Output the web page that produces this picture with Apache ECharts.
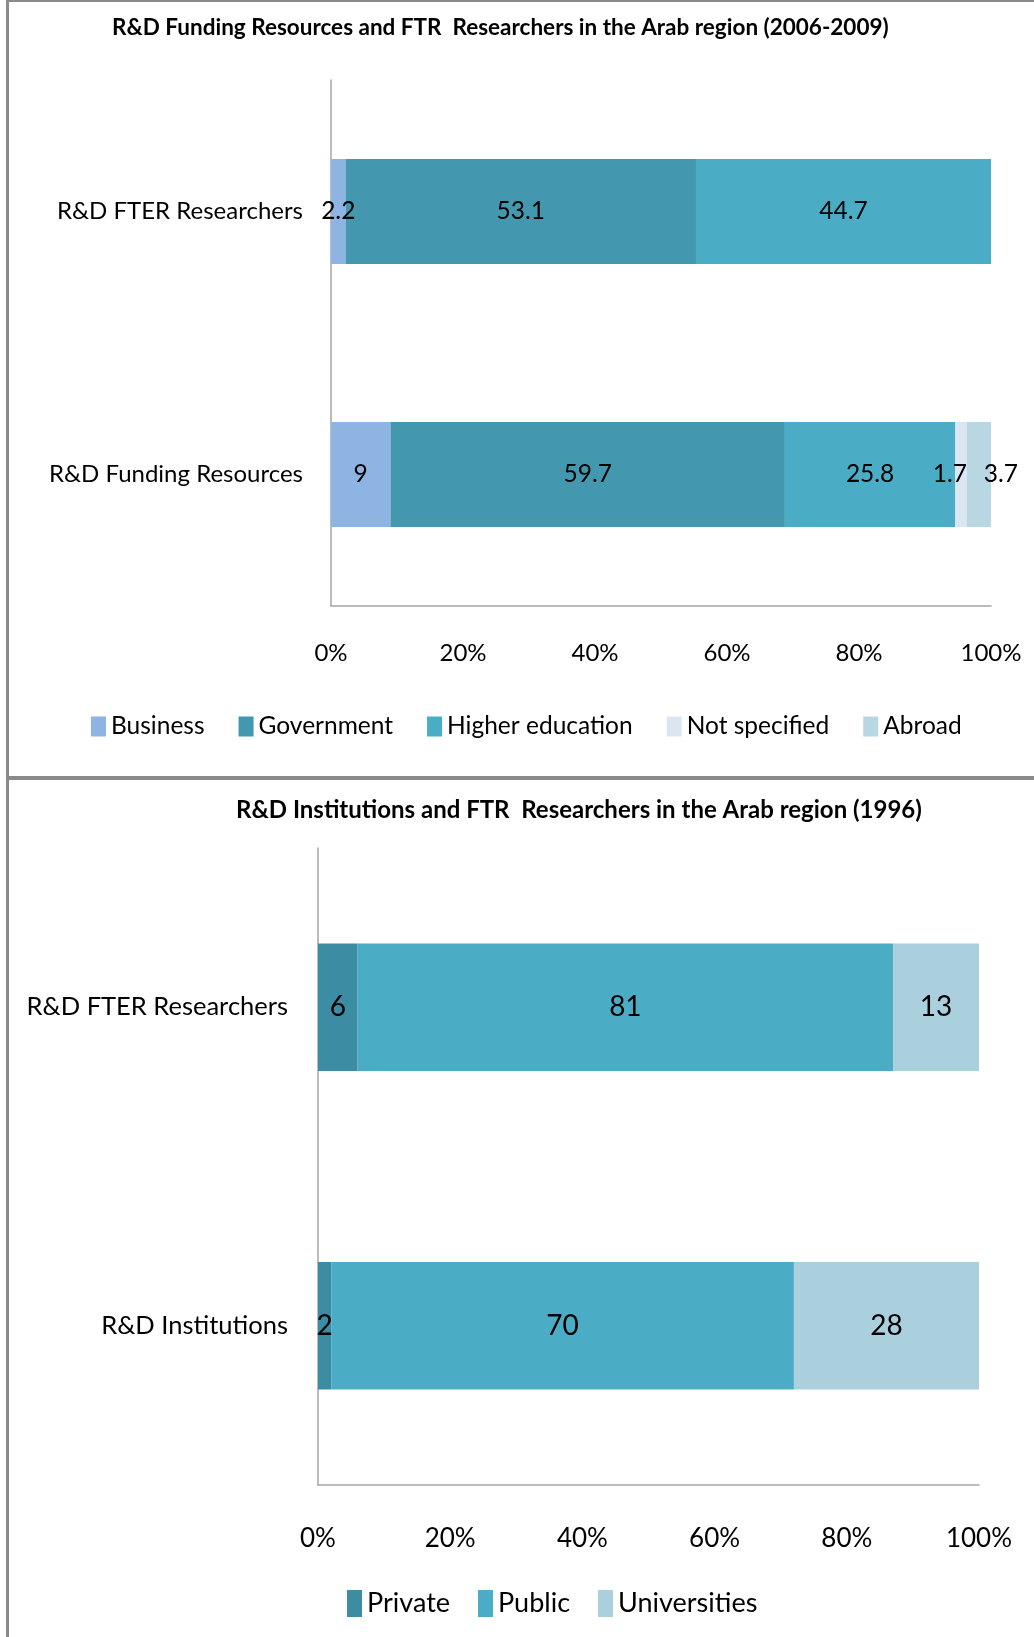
<!DOCTYPE html>
<html>
<head>
<meta charset="utf-8">
<title>R&amp;D Funding and Institutions in the Arab region</title>
<script src="https://cdn.jsdelivr.net/npm/echarts@6/dist/echarts.min.js"></script>
<style>
  html, body { margin: 0; padding: 0; background: #fff; }
  #chart { position: absolute; left: 0; top: 0; width: 1034px; height: 1637px; }
  .rule { position: absolute; background: #8a8a8a; }
</style>
</head>
<body>
<div id="chart"></div>
<!-- frame lines of the original sheet -->
<div class="rule" style="left:6px;top:0;width:3px;height:1637px"></div>
<div class="rule" style="left:6px;top:0;width:1028px;height:2px"></div>
<div class="rule" style="left:6px;top:776px;width:1028px;height:4px"></div>

<script>
// top chart: funding resources and researchers (2006-2009)
const fundingCategories = ['R&D Funding Resources', 'R&D FTER Researchers']
const fundingNames = ['Business', 'Government', 'Higher education', 'Not specified', 'Abroad']
const business = [9, 2.2]
const government = [59.7, 53.1]
const higherEducation = [25.8, 44.7]
const notSpecified = [1.7, null]
const abroad = [3.7, null]

// bottom chart: institutions and researchers (1996)
const instCategories = ['R&D Institutions', 'R&D FTER Researchers']
const instNames = ['Private', 'Public', 'Universities']
const privateShare = [2, 6]
const publicShare = [70, 81]
const universities = [28, 13]

const percentTicks = ['0%', '20%', '40%', '60%', '80%', '100%']

const fundingColors = ['#8EB4E3', '#4397AE', '#4BACC6', '#DCE6F2', '#B9D7E3']
const instColors = ['#3C8DA3', '#4BACC6', '#AACFDD']

const FONT = 'Lato, "Open Sans", sans-serif'

const fundingValues = [business, government, higherEducation, notSpecified, abroad]
const instValues = [privateShare, publicShare, universities]

// 100% stacked: each bar is scaled to its own total
const totals = (groups, n) => {
  const out = []
  for (let i = 0; i < n; i++) {
    out.push(groups.reduce((s, g) => s + (g[i] || 0), 0))
  }
  return out
}
const fundingTotals = totals(fundingValues, fundingCategories.length)
const instTotals = totals(instValues, instCategories.length)

// the two thin segments: Excel pushed their labels sideways
const fundingLabelShift = [0, 0, 0, -11, 22]

const makeSeries = (names, groups, sums, colors, shifts, axisIdx, stack, fontSize) =>
  names.map((name, s) => ({
    name,
    type: 'bar',
    stack,
    xAxisIndex: axisIdx,
    yAxisIndex: axisIdx,
    barCategoryGap: '60%',
    itemStyle: { color: colors[s] },
    label: {
      show: true,
      position: 'inside',
      color: '#000',
      fontFamily: FONT,
      fontSize,
      formatter: p => String(groups[s][p.dataIndex])
    },
    labelLayout: () => ({ dx: shifts ? shifts[s] : 0, hideOverlap: false }),
    data: groups[s].map((v, i) => (v == null ? null : v / sums[i] * 100))
  }))

const axisColor = '#A6A6A6'

const valueAxis = (gridIndex, margin, fontSize) => ({
  type: 'value',
  gridIndex,
  min: 0,
  max: 100,
  interval: 20,
  splitLine: { show: false },
  axisTick: { show: false },
  axisLine: { show: true, lineStyle: { color: axisColor, width: 1.5 } },
  axisLabel: {
    margin,
    color: '#000',
    fontFamily: FONT,
    fontSize,
    formatter: v => percentTicks[v / 20]
  }
})

const categoryAxis = (gridIndex, data, margin, fontSize) => ({
  type: 'category',
  gridIndex,
  data,
  axisTick: { show: false },
  axisLine: { show: true, lineStyle: { color: axisColor, width: 1.5 } },
  axisLabel: { margin, color: '#000', fontFamily: FONT, fontSize }
})

const chart = echarts.init(document.getElementById('chart'))

chart.setOption({
  animation: false,
  title: [
    {
      text: 'R&D Funding Resources and FTR  Researchers in the Arab region (2006-2009)',
      left: 112,
      top: 16,
      padding: 0,
      textStyle: { fontFamily: FONT, fontSize: 22.5, fontWeight: 'bold', color: '#000' }
    },
    {
      text: 'R&D Institutions and FTR  Researchers in the Arab region (1996)',
      left: 236,
      top: 798,
      padding: 0,
      textStyle: { fontFamily: FONT, fontSize: 24, fontWeight: 'bold', color: '#000' }
    }
  ],
  legend: [
    {
      data: fundingNames,
      left: 91,
      top: 714,
      padding: 0,
      width: 940,
      itemWidth: 15,
      itemHeight: 20,
      itemGap: 34,
      icon: 'rect',
      textStyle: { fontFamily: FONT, fontSize: 24.5, color: '#000' }
    },
    {
      data: instNames,
      left: 347,
      top: 1590,
      padding: 0,
      width: 680,
      itemWidth: 15,
      itemHeight: 27,
      itemGap: 28,
      icon: 'rect',
      textStyle: { fontFamily: FONT, fontSize: 27, color: '#000' }
    }
  ],
  grid: [
    { left: 331, top: 80, width: 660, height: 526 },
    { left: 318, top: 848, width: 661, height: 637 }
  ],
  xAxis: [valueAxis(0, 35, 24), valueAxis(1, 41, 26)],
  yAxis: [
    categoryAxis(0, fundingCategories, 28, 24),
    categoryAxis(1, instCategories, 30, 25.5)
  ],
  series: [
    ...makeSeries(fundingNames, fundingValues, fundingTotals, fundingColors, fundingLabelShift, 0, 'funding', 24.5),
    ...makeSeries(instNames, instValues, instTotals, instColors, null, 1, 'inst', 28)
  ]
})
</script>
</body>
</html>
